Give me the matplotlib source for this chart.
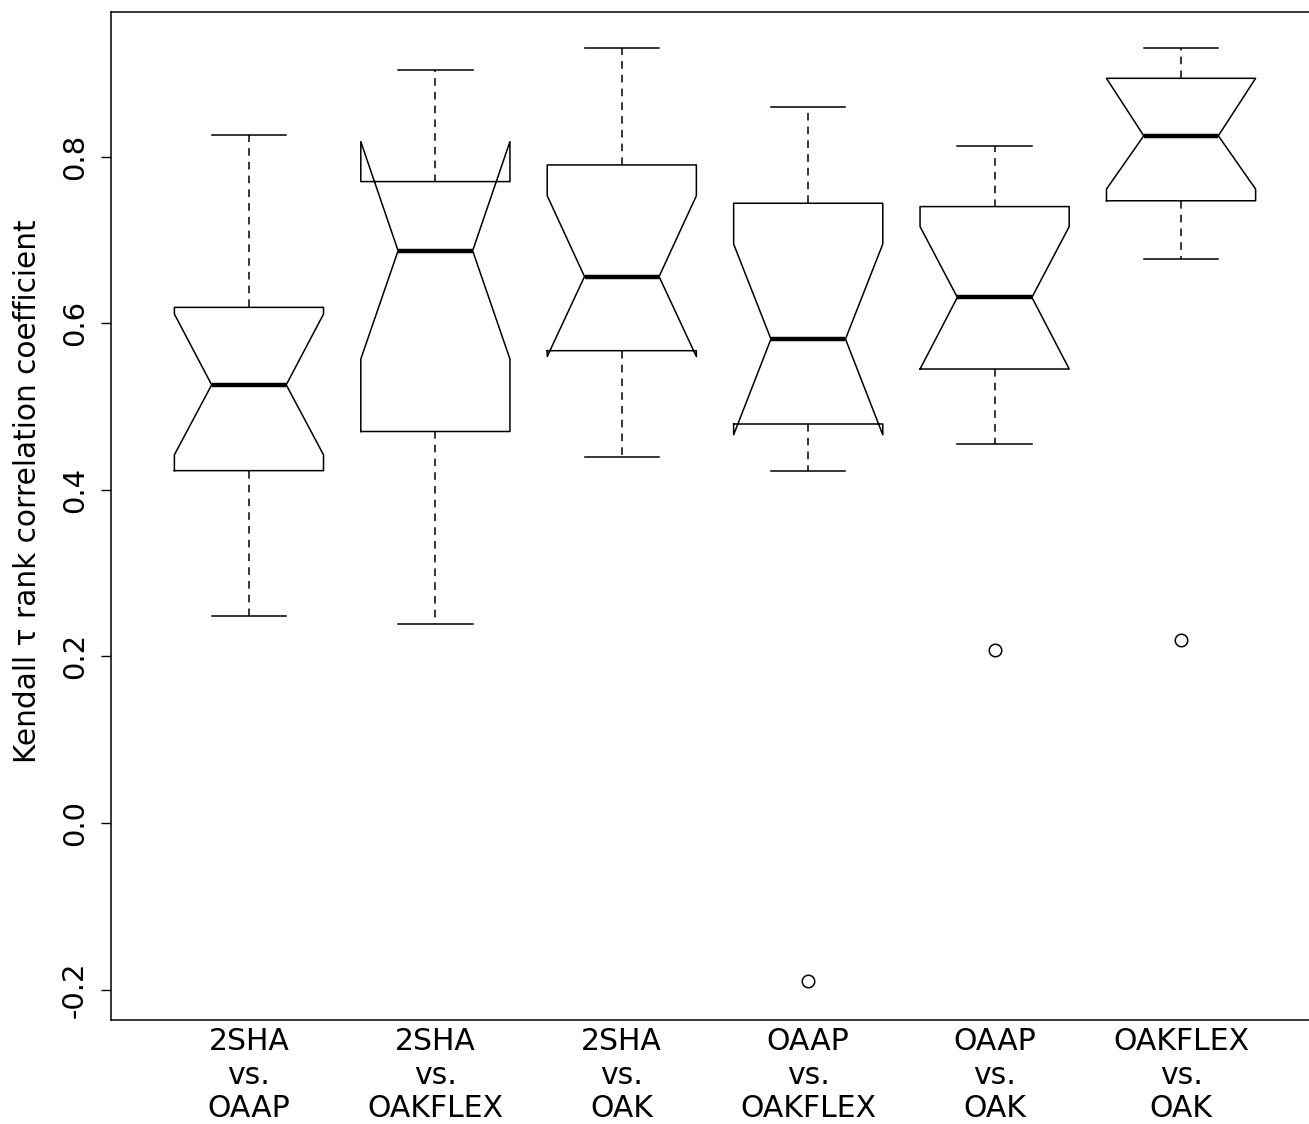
import matplotlib
matplotlib.use("Agg")
import matplotlib.pyplot as plt

# ---- data ----
categories = ["2SHA\nvs.\nOAAP", "2SHA\nvs.\nOAKFLEX", "2SHA\nvs.\nOAK",
              "OAAP\nvs.\nOAKFLEX", "OAAP\nvs.\nOAK", "OAKFLEX\nvs.\nOAK"]
whislo = [0.248, 0.239, 0.439, 0.423, 0.455, 0.677]
q1     = [0.423, 0.470, 0.567, 0.479, 0.545, 0.747]
med    = [0.526, 0.687, 0.656, 0.581, 0.631, 0.825]
q3     = [0.619, 0.770, 0.790, 0.744, 0.740, 0.894]
whishi = [0.826, 0.904, 0.930, 0.860, 0.813, 0.930]
cilo   = [0.442, 0.557, 0.560, 0.466, 0.545, 0.761]
cihi   = [0.611, 0.818, 0.753, 0.695, 0.716, 0.894]
outliers = [[], [], [], [-0.190], [0.208], [0.220]]
yticks = [-0.2, 0.0, 0.2, 0.4, 0.6, 0.8]
ylabel = "Kendall \u03c4 rank correlation coefficient"

stats = []
for i in range(len(categories)):
    stats.append(dict(whislo=whislo[i], q1=q1[i], med=med[i], q3=q3[i],
                      whishi=whishi[i], cilo=cilo[i], cihi=cihi[i],
                      fliers=outliers[i], label=categories[i]))

fig = plt.figure(figsize=(13.09, 11.24), dpi=100)
ax = fig.add_axes([111/1309, 1 - 1020/1124, (1319 - 111)/1309, (1020 - 12)/1124])

ax.bxp(stats, positions=range(1, len(categories) + 1), widths=0.8,
       shownotches=True, showfliers=True,
       boxprops=dict(color="black", linewidth=1.1),
       whiskerprops=dict(color="black", linewidth=1.1, linestyle=(0, (5, 4))),
       capprops=dict(color="black", linewidth=1.1),
       medianprops=dict(color="black", linewidth=3.2),
       flierprops=dict(marker="o", markerfacecolor="none", markeredgecolor="black",
                       markersize=9, markeredgewidth=1.1))

ax.set_xlim(0.26, 6.74)
ax.set_ylim(-0.2365, 0.9736)
ax.set_yticks(yticks)
ax.set_yticklabels([f"{v:.1f}" for v in yticks], rotation=90, va="center",
                   fontsize=21)
ax.tick_params(axis="y", length=7, width=1, pad=9)
ax.tick_params(axis="x", length=0, pad=5, labelsize=21.5)
ax.set_xticks(range(1, len(categories) + 1))
ax.set_xticklabels(categories, linespacing=1.2)
ax.set_ylabel(ylabel, fontsize=21.3)
ax.yaxis.set_label_coords(-(111 - 42) / 1208, (1020 - 491) / 1008)
for s in ax.spines.values():
    s.set_linewidth(1.1)

fig.savefig("out.png", dpi=100, facecolor="white")
